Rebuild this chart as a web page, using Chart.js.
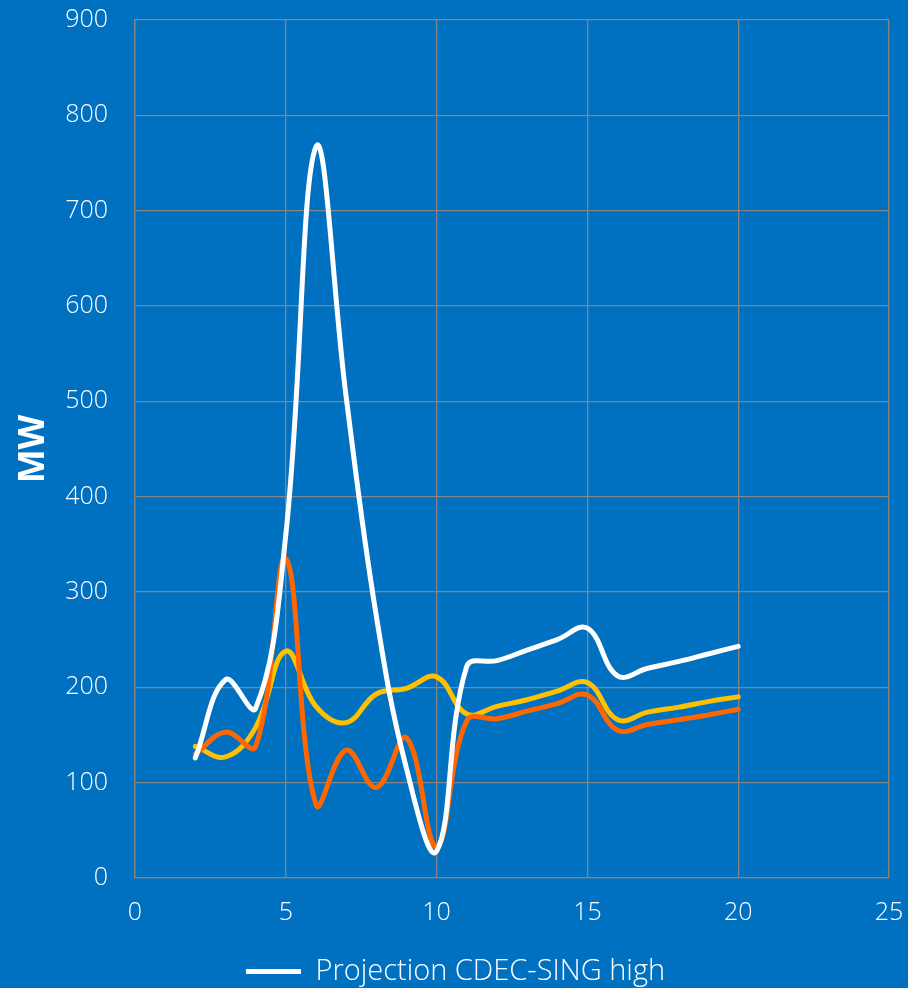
<!DOCTYPE html>
<html>
<head>
<meta charset="utf-8">
<script src="https://cdn.jsdelivr.net/npm/chart.js@4/dist/chart.umd.min.js"></script>
<style>
  html, body { margin: 0; padding: 0; background: #0070C0; overflow: hidden; }
  #wrap { width: 908px; height: 988px; }
</style>
</head>
<body>
<div id="wrap"><canvas id="c" width="908" height="988"></canvas></div>
<script>
// Horizon (x) and projected capacity in MW for each scenario
const xValues = [2, 3, 4, 5, 6, 7, 8, 9, 10, 11, 12, 13, 14, 15, 16, 17, 18, 19, 20];
const highMW   = [126, 208, 178, 360, 767, 505, 275, 115, 28, 222, 228, 239, 250, 262, 212, 220, 227, 235, 243];
const mediumMW = [138, 127, 158, 238, 180, 163, 193, 199, 211, 172, 180, 187, 196, 205, 166, 174, 179, 185, 190];
const lowMW    = [130, 153, 138, 335, 77, 134, 95, 147, 33, 165, 167, 175, 183, 192, 155, 161, 166, 171, 177];

const xTicks = [0, 5, 10, 15, 20, 25];
const yTicks = [0, 100, 200, 300, 400, 500, 600, 700, 800, 900];

const seriesNames = ['Projection CDEC-SING high', 'Projection CDEC-SING medium', 'Projection CDEC-SING low'];

const toPoints = vals => vals.map((v, i) => ({ x: xValues[i], y: v }));

const FONT = "'Open Sans', 'Liberation Sans', sans-serif";

const lineStyle = color => ({
  borderColor: color,
  backgroundColor: color,
  borderWidth: 5,
  pointRadius: 0,
  tension: 0.4,
  fill: false,
  borderCapStyle: 'round',
  borderJoinStyle: 'round'
});

// Tick labels may overhang the plot edges; the outer margins are set by layout.padding instead
const noOverhang = s => { s.paddingTop = 0; s.paddingBottom = 0; s.paddingLeft = 0; s.paddingRight = 0; };

new Chart(document.getElementById('c'), {
  type: 'line',
  data: {
    datasets: [
      { label: seriesNames[0], data: toPoints(highMW), ...lineStyle('#FFFFFF'), order: 0 },
      { label: seriesNames[1], data: toPoints(mediumMW), ...lineStyle('#FFC000'), order: 2 },
      { label: seriesNames[2], data: toPoints(lowMW), ...lineStyle('#FF6600'), order: 1 }
    ]
  },
  options: {
    responsive: false,
    animation: false,
    layout: { padding: { top: 20, right: 19, left: 22, bottom: -8 } },
    plugins: {
      legend: {
        position: 'bottom',
        labels: {
          color: '#FFFFFF',
          font: { family: FONT, size: 29, weight: 300 },
          usePointStyle: true,
          pointStyle: 'line',
          pointStyleWidth: 55,
          boxHeight: 28,
          padding: 10,
          filter: item => item.datasetIndex === 0
        }
      },
      tooltip: { enabled: false }
    },
    scales: {
      x: {
        type: 'linear',
        min: 0,
        max: 25,
        afterBuildTicks: s => { s.ticks = xTicks.map(v => ({ value: v })); },
        afterFit: s => { s.height = 69; noOverhang(s); },
        grid: { color: '#858585', lineWidth: 1.3, drawTicks: false },
        border: { color: '#858585', width: 1.3 },
        ticks: { color: '#FFFFFF', font: { family: FONT, size: 25, weight: 300 }, padding: 20, maxRotation: 0 }
      },
      y: {
        min: 0,
        max: 900,
        afterBuildTicks: s => { s.ticks = yTicks.map(v => ({ value: v })); },
        afterFit: s => { s.width = 113; noOverhang(s); },
        grid: { color: '#858585', lineWidth: 1.3, drawTicks: false },
        border: { color: '#858585', width: 1.3 },
        ticks: { color: '#FFFFFF', font: { family: FONT, size: 25, weight: 300 }, padding: 27 },
        title: {
          display: true,
          text: 'MW',
          color: '#FFFFFF',
          font: { family: FONT, size: 36, weight: 'bold' },
          padding: { top: -10, bottom: 0 }
        }
      }
    }
  }
});
</script>
</body>
</html>
